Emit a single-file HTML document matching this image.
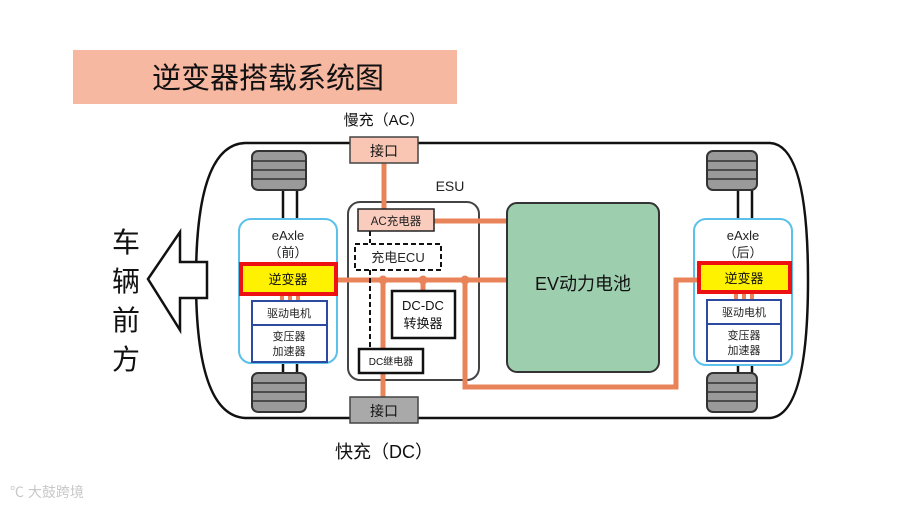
<!DOCTYPE html>
<html><head><meta charset="utf-8"><style>
body{margin:0;background:#fff;}
svg{display:block;font-family:"Liberation Sans","Noto Sans CJK SC",sans-serif;}
</style></head><body>
<svg width="900" height="508" viewBox="0 0 900 508" xmlns="http://www.w3.org/2000/svg">
<rect x="73" y="50" width="384" height="54" fill="#f7b8a2"/>
<text x="268" y="88" font-size="29" text-anchor="middle" fill="#111">逆变器搭载系统图</text>
<!-- car body -->
<path d="M245,143 L770,143 Q808,145 808,280 Q808,415 770,418 L245,418 Q196,415 196,280 Q196,145 245,143 Z" fill="#fff" stroke="#111" stroke-width="2.5"/>
<!-- arrow -->
<path d="M148,279 L180,232 L180,262 L207,262 L207,298 L180,298 L180,330 Z" fill="#fff" stroke="#111" stroke-width="2.5"/>
<g font-size="28" fill="#111" text-anchor="middle">
<text x="126" y="252">车</text><text x="126" y="291">辆</text><text x="126" y="330">前</text><text x="126" y="369">方</text></g>
<!-- axles -->
<g stroke="#111" stroke-width="2.5">
<line x1="283" y1="190" x2="283" y2="375"/><line x1="297" y1="190" x2="297" y2="375"/>
<line x1="738" y1="190" x2="738" y2="375"/><line x1="752" y1="190" x2="752" y2="375"/>
</g>
<!-- wheels -->
<g fill="#9a9a9a" stroke="#333" stroke-width="2">
<rect x="252" y="151" width="54" height="39" rx="6"/><rect x="252" y="373" width="54" height="39" rx="6"/>
<rect x="707" y="151" width="50" height="39" rx="6"/><rect x="707" y="373" width="50" height="39" rx="6"/>
</g>
<g stroke="#333" stroke-width="1.5">
<line x1="253" y1="161" x2="305" y2="161"/><line x1="253" y1="170" x2="305" y2="170"/><line x1="253" y1="179" x2="305" y2="179"/>
<line x1="253" y1="383" x2="305" y2="383"/><line x1="253" y1="392" x2="305" y2="392"/><line x1="253" y1="401" x2="305" y2="401"/>
<line x1="708" y1="161" x2="756" y2="161"/><line x1="708" y1="170" x2="756" y2="170"/><line x1="708" y1="179" x2="756" y2="179"/>
<line x1="708" y1="383" x2="756" y2="383"/><line x1="708" y1="392" x2="756" y2="392"/><line x1="708" y1="401" x2="756" y2="401"/>
</g>
<!-- eAxle front -->
<rect x="239" y="219" width="98" height="144" rx="12" fill="#fff" stroke="#5bc0ea" stroke-width="2"/>
<text x="288" y="240" font-size="13" text-anchor="middle" fill="#222">eAxle</text>
<text x="288" y="257" font-size="13" text-anchor="middle" fill="#222">（前）</text>
<!-- eAxle rear -->
<rect x="694" y="219" width="98" height="146" rx="12" fill="#fff" stroke="#5bc0ea" stroke-width="2"/>
<text x="743" y="240" font-size="13" text-anchor="middle" fill="#222">eAxle</text>
<text x="743" y="257" font-size="13" text-anchor="middle" fill="#222">（后）</text>
<!-- ESU -->
<text x="450" y="191" font-size="14" text-anchor="middle" fill="#222">ESU</text>
<rect x="348" y="202" width="131" height="178" rx="12" fill="#fff" stroke="#444" stroke-width="2"/>
<!-- orange lines -->
<g stroke="#e9835a" stroke-width="5" fill="none">
<line x1="384" y1="163" x2="384" y2="209"/>
<line x1="434" y1="221" x2="507" y2="221"/>
<line x1="337" y1="280" x2="507" y2="280"/>
<line x1="383" y1="280" x2="383" y2="397"/>
<line x1="423" y1="280" x2="423" y2="291"/>
<polyline points="465,280 465,387 676,387 676,280 698,280"/>
</g>
<g fill="#e9835a"><circle cx="383" cy="280" r="4.5"/><circle cx="423" cy="280" r="4.5"/><circle cx="465" cy="280" r="4.5"/></g>
<g fill="#e9835a"><rect x="280" y="292" width="4" height="9"/><rect x="288" y="292" width="4" height="9"/><rect x="296" y="292" width="4" height="9"/>
<rect x="734" y="292" width="4" height="9"/><rect x="742" y="292" width="4" height="9"/><rect x="750" y="292" width="4" height="9"/></g>
<!-- dashed control -->
<g stroke="#111" stroke-width="2" stroke-dasharray="5,3" fill="none">
<polyline points="370,231 370,243"/>
<polyline points="370,270 370,349"/>
<rect x="355" y="244" width="86" height="26"/>
</g>
<text x="398" y="262" font-size="13" text-anchor="middle" fill="#222">充电ECU</text>
<rect x="358" y="209" width="76" height="22" fill="#f9ccbd" stroke="#222" stroke-width="1.5"/>
<text x="396" y="225" font-size="11.5" text-anchor="middle" fill="#222">AC充电器</text>
<rect x="392" y="291" width="63" height="47" fill="#fff" stroke="#111" stroke-width="2.5"/>
<text x="423" y="310" font-size="13" text-anchor="middle" fill="#111">DC-DC</text>
<text x="423" y="328" font-size="13" text-anchor="middle" fill="#111">转换器</text>
<rect x="359" y="349" width="64" height="24" fill="#fff" stroke="#111" stroke-width="2.5"/>
<text x="391" y="365" font-size="10" text-anchor="middle" fill="#111">DC继电器</text>
<!-- battery -->
<rect x="507" y="203" width="152" height="169" rx="10" fill="#9dcfaf" stroke="#333" stroke-width="2"/>
<text x="583" y="290" font-size="18" text-anchor="middle" fill="#111">EV动力电池</text>
<!-- inverters -->
<rect x="241" y="264" width="95" height="30" fill="#fff200" stroke="#ee1111" stroke-width="4"/>
<text x="288" y="284" font-size="13" text-anchor="middle" fill="#111">逆变器</text>
<rect x="699" y="263" width="91" height="29" fill="#fff200" stroke="#ee1111" stroke-width="4"/>
<text x="744" y="283" font-size="13" text-anchor="middle" fill="#111">逆变器</text>
<!-- motor boxes -->
<g fill="#fff" stroke="#2b4aa0" stroke-width="2">
<rect x="252" y="301" width="75" height="24"/><rect x="252" y="325" width="75" height="37"/>
<rect x="707" y="300" width="74" height="24"/><rect x="707" y="324" width="74" height="37"/>
</g>
<g font-size="11" text-anchor="middle" fill="#222">
<text x="289" y="317">驱动电机</text><text x="289" y="340">变压器</text><text x="289" y="355">加速器</text>
<text x="744" y="316">驱动电机</text><text x="744" y="339">变压器</text><text x="744" y="354">加速器</text>
</g>
<!-- ports -->
<text x="384" y="125" font-size="15" text-anchor="middle" fill="#111">慢充（AC）</text>
<rect x="350" y="137" width="68" height="26" fill="#f9c6b4" stroke="#444" stroke-width="1.5"/>
<text x="384" y="156" font-size="14" text-anchor="middle" fill="#111">接口</text>
<rect x="350" y="397" width="68" height="26" fill="#a9a9a9" stroke="#444" stroke-width="1.5"/>
<text x="384" y="416" font-size="14" text-anchor="middle" fill="#111">接口</text>
<text x="384" y="458" font-size="18" text-anchor="middle" fill="#111">快充（DC）</text>
<text x="10" y="497" font-size="14" fill="#c8c8c8">℃ 大鼓跨境</text>
</svg>
</body></html>
